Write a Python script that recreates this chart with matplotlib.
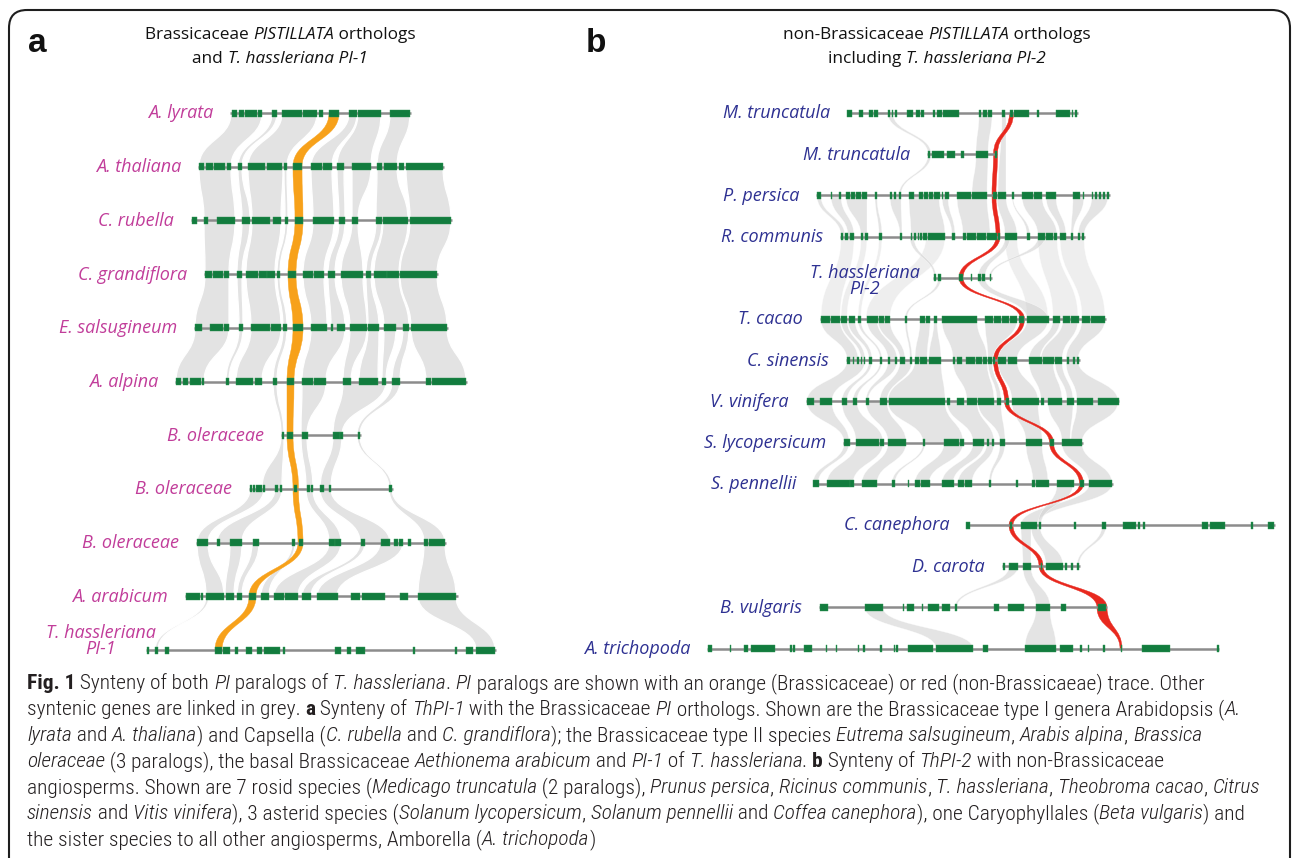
import matplotlib
matplotlib.use("Agg")
import matplotlib.pyplot as plt
from matplotlib.path import Path
from matplotlib.patches import PathPatch, FancyBboxPatch
from matplotlib.font_manager import FontProperties, fontManager

W, H = 1292, 858

# ---------------- panel a : Brassicaceae PI orthologs ----------------
names_a = ["A. lyrata", "A. thaliana", "C. rubella", "C. grandiflora", "E. salsugineum",
           "A. alpina", "B. oleraceae", "B. oleraceae", "B. oleraceae", "A. arabicum",
           "T. hassleriana\nPI-1"]
span_a = [(230, 411), (198, 444), (191, 452), (204, 438), (194, 448), (175, 467),
          (281, 361), (249, 393), (196, 446), (185, 458), (146, 496)]
exons_a = [
    [(231.5, 236.5), (239, 244), (245, 256.5), (258, 261.5), (272, 276.5), (282, 302), (303, 316.5),
     (319, 323), (329, 339), (348.5, 357), (358, 380.5), (390, 410)],
    [(199, 204), (206, 213), (214, 225), (227, 231), (238, 242), (248, 265), (267, 282), (284, 287),
     (293, 302), (311, 322), (322.5, 332), (337, 344), (352, 371), (377, 382), (384, 397), (399, 404),
     (406, 443)],
    [(192, 197), (204, 208), (217, 235), (242, 250), (252, 270), (273, 281), (285, 288), (295, 303),
     (313, 334), (339, 345), (352, 358), (376, 382), (383, 408), (410, 451)],
    [(205, 211.5), (212.5, 222.5), (223.5, 229), (237, 242), (246, 258), (259, 266.5), (267, 275),
     (277, 280), (288, 296), (303, 313), (314, 324), (328, 335), (341, 363), (366, 371), (374, 386.5),
     (387, 399), (400, 437)],
    [(195, 202), (210, 223), (224, 229), (239, 243), (251, 270), (271, 281), (283, 287), (293, 303),
     (311, 327), (331, 333), (337, 345), (350, 367), (368, 379), (384, 396), (403, 409), (411, 447)],
    [(176, 181), (183, 188), (190, 201), (202, 204), (226, 229), (236, 253), (255, 262), (273, 277),
     (287, 294), (302, 313), (314, 326), (343, 351), (359, 378), (382, 386), (392, 400), (426, 431),
     (432, 466)],
    [(281.5, 283.5), (286.5, 293), (301.5, 307.5), (332.5, 339.5), (340, 342.5), (357.5, 360)],
    [(250, 252), (253, 255), (256, 262), (263, 264.5), (275, 277.5), (280, 282), (294, 297),
     (306.5, 309.5), (311, 313), (320, 323.5), (328.5, 331), (389, 392)],
    [(197, 208), (217, 220), (230, 242), (252.5, 258.5), (291.5, 295), (299, 302.5), (329, 334.5),
     (335, 341), (360.5, 364.5), (380.5, 390), (394, 397.5), (398.5, 403), (408, 411), (424, 427.5),
     (428.5, 445)],
    [(186, 199.5), (200.5, 202.5), (206, 223.5), (225.5, 233.5), (237, 242), (249, 256), (261, 269),
     (274, 283.5), (285, 298), (302, 311), (316.5, 337.5), (350.5, 360), (362, 385), (400, 408),
     (418, 456)],
    [(146.5, 149), (155, 157.5), (165, 168.5), (215, 222), (223, 229.5), (235, 237.5), (246, 252),
     (257, 262), (264, 280), (282.5, 285), (335, 341), (347, 351), (356, 364.5), (412.5, 415),
     (455, 457), (466, 473), (476, 495)],
]
# PI ortholog on every track (orange trace)
pi_a = [(329, 339), (293, 302), (295, 303), (288, 296), (293, 303), (287, 294), (287, 293),
        (293, 298.5), (298, 303), (249, 256), (215, 222)]
# syntenic links: (upper track, lower track, x0 up, x1 up, x0 down, x1 down)
links_a = [
    (0, 1, 231, 262, 199, 231), (0, 1, 272, 277, 238, 242), (0, 1, 282, 317, 248, 287),
    (0, 1, 349, 357, 311, 332), (0, 1, 358, 381, 337, 371), (0, 1, 390, 410, 377, 397),
    (1, 2, 199, 231, 204, 235), (1, 2, 238, 242, 242, 250), (1, 2, 248, 283, 252, 281),
    (1, 2, 284, 287, 285, 288), (1, 2, 311, 332, 313, 334), (1, 2, 337, 344, 339, 345),
    (1, 2, 352, 371, 352, 358), (1, 2, 377, 397, 376, 408), (1, 2, 406, 443, 410, 451),
    (2, 3, 204, 235, 205, 229), (2, 3, 242, 250, 237, 242), (2, 3, 252, 281, 246, 275),
    (2, 3, 285, 288, 277, 280), (2, 3, 313, 334, 303, 324), (2, 3, 339, 345, 328, 335),
    (2, 3, 352, 358, 341, 363), (2, 3, 376, 382, 366, 371), (2, 3, 383, 408, 374, 399),
    (2, 3, 410, 451, 400, 437),
    (3, 4, 205, 229, 195, 229), (3, 4, 237, 242, 239, 243), (3, 4, 246, 275, 251, 281),
    (3, 4, 277, 280, 283, 287), (3, 4, 303, 324, 311, 327), (3, 4, 328, 335, 331, 345),
    (3, 4, 341, 363, 350, 367), (3, 4, 366, 371, 368, 379), (3, 4, 374, 399, 384, 409),
    (3, 4, 400, 437, 411, 447),
    (4, 5, 195, 229, 176, 204), (4, 5, 239, 243, 226, 229), (4, 5, 251, 281, 236, 262),
    (4, 5, 283, 287, 273, 277), (4, 5, 311, 345, 302, 326), (4, 5, 350, 367, 343, 351),
    (4, 5, 368, 379, 359, 378), (4, 5, 384, 396, 382, 386), (4, 5, 403, 409, 392, 400),
    (4, 5, 411, 447, 426, 466),
    (5, 6, 273, 277, 281, 284), (5, 6, 302, 326, 301, 307), (5, 6, 343, 386, 333, 342),
    (5, 6, 392, 400, 357, 360),
    (6, 7, 281, 284, 262, 282), (6, 7, 301, 307, 306, 313), (6, 7, 333, 342, 320, 331),
    (6, 7, 357, 360, 389, 392),
    (7, 8, 250, 264, 197, 208), (7, 8, 275, 282, 217, 242), (7, 8, 306, 313, 329, 341),
    (7, 8, 320, 331, 360, 390), (7, 8, 389, 392, 424, 445),
    (8, 9, 197, 208, 206, 224), (8, 9, 230, 242, 225, 234), (8, 9, 252, 259, 237, 242),
    (8, 9, 292, 295, 261, 269), (8, 9, 329, 341, 274, 298), (8, 9, 360, 365, 302, 311),
    (8, 9, 380, 403, 317, 337), (8, 9, 424, 445, 418, 456),
    (9, 10, 206, 209, 155, 158), (9, 10, 418, 456, 476, 495),
]

# ---------------- panel b : non-Brassicaceae PI orthologs ----------------
names_b = ["M. truncatula", "M. truncatula", "P. persica", "R. communis", "T. hassleriana\nPI-2",
           "T. cacao", "C. sinensis", "V. vinifera", "S. lycopersicum", "S. pennellii",
           "C. canephora", "D. carota", "B. vulgaris", "A. trichopoda"]
span_b = [(847, 1078), (927, 997), (816, 1110), (840, 1085), (933, 992), (820, 1106), (846, 1080),
          (806, 1119), (843, 1083), (813, 1113), (966, 1275), (1002, 1080), (819, 1107), (707, 1219)]
exons_b = [
    [(847, 852), (859, 863), (869, 872.5), (873.5, 878), (888, 889.5), (891.5, 893), (895, 896.5),
     (907, 913), (916, 920), (921, 923.5), (933, 935), (936.5, 941.5), (942.5, 958.5), (979, 981),
     (982.5, 986.5), (987.5, 991.5), (1002, 1005), (1010, 1013), (1014, 1028.5), (1036.5, 1038.5),
     (1055.5, 1069.5), (1071.5, 1073), (1075, 1076.5)],
    [(928, 930), (931.5, 944), (946.5, 955), (960.5, 964), (975.5, 987.5), (995, 997)],
    [(817, 821), (830.5, 832), (839, 841), (846, 850), (851, 855), (856, 861), (862, 867), (875, 877),
     (890, 892), (894, 896), (899, 901), (909, 914), (918.5, 923), (924, 928), (929, 933),
     (934, 939.5), (941.5, 943), (945, 948.5), (956.5, 971), (972, 986.5), (992.5, 997), (998, 1006),
     (1011.5, 1013.5), (1021.5, 1033), (1034, 1042), (1046, 1056), (1072.5, 1079.5), (1082.5, 1084),
     (1091.5, 1093), (1095, 1097), (1099, 1101), (1103, 1105), (1107, 1109)],
    [(840.5, 843), (844.5, 848), (849.5, 854), (860.5, 863), (865, 867.5), (879, 882), (900, 902),
     (910.5, 912), (914, 916), (917.5, 919), (920, 922), (922.5, 927), (927.5, 945), (952, 955),
     (963, 966), (967, 976), (977, 986), (987, 996.5), (998, 1000), (1005, 1016.5), (1026.5, 1030),
     (1038, 1045), (1046, 1053), (1054, 1057), (1060, 1066), (1070.5, 1072.5), (1078, 1080),
     (1081.5, 1084)],
    [(934, 936), (938, 941), (959, 963), (971, 972), (978, 981), (982, 985), (989.5, 991)],
    [(820.5, 830), (831, 840), (841, 847), (848.5, 855), (857.5, 861), (866.5, 877.5), (878.5, 883.5),
     (885, 890), (905, 907), (920, 925), (926, 930), (934, 937), (942, 976.5), (985, 993), (994, 1001),
     (1002, 1009), (1010, 1017), (1019, 1024), (1027, 1048.5), (1052.5, 1060), (1063, 1070),
     (1071, 1078.5), (1081.5, 1090), (1091, 1105)],
    [(847, 850), (852.5, 854), (856.5, 858.5), (860.5, 862), (863.5, 865), (869, 872), (880, 882),
     (888, 890), (895, 897), (900, 905), (910, 912), (915, 918.5), (920, 927), (929, 941), (953, 955),
     (956.5, 962), (966, 975), (976, 982), (983, 987), (988, 992), (993, 995), (998, 1006),
     (1008, 1017), (1029, 1042), (1043, 1053.5), (1055, 1062), (1066.5, 1068.5), (1073, 1075),
     (1076.5, 1078.5)],
    [(806.5, 813.5), (820, 831.5), (841.5, 847), (853, 857), (866, 868.5), (880, 887), (888.5, 945),
     (946.5, 950), (956.5, 963.5), (966.5, 977), (978, 994), (996.5, 1001), (1006, 1008.5),
     (1011.5, 1038.5), (1040.5, 1043.5), (1048, 1062), (1066.5, 1073.5), (1077, 1093), (1098, 1118.5)],
    [(844, 849.5), (856, 878.5), (879.5, 883.5), (888, 906), (922.5, 925), (944, 958.5), (959.5, 963.5),
     (972.5, 984), (987, 989), (992, 994), (1000, 1005), (1025.5, 1042), (1050, 1053.5), (1061.5, 1082)],
    [(813, 818.5), (827, 849.5), (850, 853.5), (862, 877), (891.5, 895), (908, 909), (915, 919.5),
     (920.5, 929.5), (941.5, 953.5), (957.5, 963.5), (965, 972), (989, 991), (1015.5, 1018),
     (1032, 1035), (1036, 1048.5), (1056.5, 1073.5), (1080, 1083.5), (1089, 1112)],
    [(966, 970), (1010, 1012), (1021, 1037), (1038.5, 1040.5), (1074, 1075.5), (1102, 1105.5),
     (1123, 1136), (1138, 1140), (1143, 1145), (1202, 1208), (1210, 1225), (1251, 1252.5), (1268, 1274)],
    [(1003, 1004.5), (1009, 1018), (1023, 1031), (1040.5, 1042), (1046, 1063), (1065, 1067),
     (1070.5, 1072.5), (1077, 1079)],
    [(819.5, 828), (865, 883), (903, 904), (907, 913.5), (922, 923), (927.5, 939), (942, 950),
     (955, 956.5), (993.5, 999), (1007.5, 1024), (1036, 1050), (1061, 1065.5), (1098, 1106)],
    [(707.5, 712), (730, 731), (744, 748), (751, 774.5), (790, 791.5), (793, 794.5), (803.5, 812),
     (826, 827), (835.5, 837), (858, 859), (862.5, 864.5), (880, 882), (894, 895), (896, 897.5),
     (908, 932.5), (936, 973), (983, 988), (1025, 1055.5), (1060, 1073), (1080, 1082), (1087.5, 1089),
     (1102.5, 1104.5), (1120.5, 1122), (1142, 1169.5), (1217, 1218.5)],
]
pi_b = [(1009.5, 1013.5), (993.5, 997.5), (992, 996), (996, 1000), (959, 963), (1020.5, 1024.5),
        (993.5, 997.5), (1004.5, 1008.5), (1049.5, 1053.5), (1079.5, 1083.5), (1009, 1013), (1039, 1043),
        (1097, 1107), (1120, 1122)]
links_b = [
    (0, 1, 979, 992, 976, 988), (0, 1, 888, 893, 928, 931), (0, 2, 1002, 1006, 998, 1006),
    (1, 2, 928, 931, 899, 901), (1, 2, 976, 988, 972, 987),
    (2, 3, 817, 821, 841, 845), (2, 3, 831, 841, 848, 854), (2, 3, 846, 867, 861, 867),
    (2, 3, 875, 877, 879, 882), (2, 3, 890, 901, 900, 902), (2, 3, 909, 939, 911, 945),
    (2, 3, 942, 948, 952, 955), (2, 3, 957, 987, 963, 990), (2, 3, 997, 1006, 1005, 1017),
    (2, 3, 1012, 1013, 1027, 1030), (2, 3, 1022, 1042, 1038, 1057), (2, 3, 1046, 1056, 1060, 1066),
    (2, 3, 1073, 1084, 1071, 1073), (2, 3, 1092, 1108, 1078, 1084),
    (3, 4, 910, 914, 934, 936), (3, 4, 1005, 1010, 978, 985), (3, 4, 1038, 1045, 989, 991),
    (4, 5, 938, 941, 905, 907), (4, 5, 978, 985, 1027, 1048),
    (5, 6, 821, 840, 847, 858), (5, 6, 841, 847, 861, 865), (5, 6, 848, 855, 869, 872),
    (5, 6, 858, 861, 880, 882), (5, 6, 867, 877, 888, 897), (5, 6, 878, 890, 900, 905),
    (5, 6, 905, 907, 910, 912), (5, 6, 920, 930, 915, 927), (5, 6, 934, 937, 929, 941),
    (5, 6, 942, 977, 953, 987), (5, 6, 985, 1017, 988, 993), (5, 6, 1027, 1048, 998, 1017),
    (5, 6, 1053, 1060, 1029, 1040), (5, 6, 1063, 1078, 1041, 1062), (5, 6, 1082, 1105, 1066, 1078),
    (6, 7, 847, 865, 807, 832), (6, 7, 869, 872, 842, 847), (6, 7, 880, 882, 853, 857),
    (6, 7, 888, 897, 866, 868), (6, 7, 900, 912, 880, 887), (6, 7, 915, 941, 888, 945),
    (6, 7, 953, 987, 967, 994), (6, 7, 988, 992, 997, 1001), (6, 7, 998, 1017, 1012, 1038),
    (6, 7, 1029, 1053, 1041, 1062), (6, 7, 1055, 1062, 1067, 1073), (6, 7, 1066, 1078, 1077, 1118),
    (7, 8, 807, 832, 844, 849), (7, 8, 842, 857, 856, 883), (7, 8, 866, 887, 888, 906),
    (7, 8, 888, 945, 923, 963), (7, 8, 947, 977, 973, 994), (7, 8, 978, 1001, 1000, 1005),
    (7, 8, 1012, 1038, 1026, 1042), (7, 8, 1048, 1073, 1062, 1070), (7, 8, 1077, 1118, 1071, 1082),
    (8, 9, 844, 849, 813, 818), (8, 9, 856, 883, 827, 853), (8, 9, 888, 906, 862, 877),
    (8, 9, 923, 925, 892, 895), (8, 9, 944, 963, 915, 929), (8, 9, 973, 984, 942, 953),
    (8, 9, 987, 994, 958, 972), (8, 9, 1000, 1005, 989, 991), (8, 9, 1026, 1042, 1033, 1048),
    (8, 9, 1062, 1082, 1089, 1112),
    (9, 10, 1089, 1112, 1021, 1037), (9, 10, 1057, 1073, 1038, 1041),
    (10, 11, 1021, 1031, 1023, 1031), (10, 11, 1031, 1040, 1046, 1063), (10, 11, 1102, 1106, 1077, 1079),
    (11, 12, 1023, 1031, 1036, 1050), (11, 12, 1009, 1018, 955, 957),
    (12, 13, 865, 883, 936, 973), (12, 13, 1036, 1050, 1025, 1056),
]
# faint links between R. communis and T. cacao that bypass T. hassleriana PI-2
faint_b = [
    (3, 5, 841, 854, 821, 840), (3, 5, 861, 867, 841, 847), (3, 5, 879, 882, 858, 861),
    (3, 5, 926, 945, 866, 890), (3, 5, 1005, 1017, 1027, 1048), (3, 5, 1038, 1057, 1053, 1078),
    (3, 5, 1060, 1084, 1082, 1105),
]

caption = [
    "^Fig. 1^ Synteny of both _PI_ paralogs of _T. hassleriana_. _PI_ paralogs are shown with an orange (Brassicaceae) or red (non-Brassicaeae) trace. Other",
    "syntenic genes are linked in grey. ^a^ Synteny of _ThPI-1_ with the Brassicaceae _PI_ orthologs. Shown are the Brassicaceae type I genera Arabidopsis (_A._",
    "_lyrata_ and _A. thaliana_) and Capsella (_C. rubella_ and _C. grandiflora_); the Brassicaceae type II species _Eutrema salsugineum_, _Arabis alpina_, _Brassica_",
    "_oleraceae_ (3 paralogs), the basal Brassicaceae _Aethionema arabicum_ and _PI-1_ of _T. hassleriana_. ^b^ Synteny of _ThPI-2_ with non-Brassicaceae",
    "angiosperms. Shown are 7 rosid species (_Medicago truncatula_ (2 paralogs), _Prunus persica_, _Ricinus communis_, _T. hassleriana_, _Theobroma cacao_, _Citrus_",
    "_sinensis_ and _Vitis vinifera_), 3 asterid species (_Solanum lycopersicum_, _Solanum pennellii_ and _Coffea canephora_), one Caryophyllales (_Beta vulgaris_) and",
    "the sister species to all other angiosperms, Amborella (_A. trichopoda_)",
]
caption_widths = [1210, 1245, 1215, 1178, 1235, 1223]
title_a = ["Brassicaceae _PISTILLATA_ orthologs", "and _T. hassleriana PI-1_"]
title_b = ["non-Brassicaceae _PISTILLATA_ orthologs", "including _T. hassleriana PI-2_"]

# ---------------- drawing ----------------
installed = {f.name for f in fontManager.ttflist}
cap_family = next((f for f in ["Roboto Condensed", "Liberation Sans Narrow", "DejaVu Sans Condensed"]
                   if f in installed), "Open Sans")

fig = plt.figure(figsize=(W / 100, H / 100), dpi=100)
ax = fig.add_axes([0, 0, 1, 1])
ax.set_xlim(0, W)
ax.set_ylim(H, 0)
ax.axis("off")
renderer = fig.canvas.get_renderer()


def ribbon(a0, a1, b0, b1, yt, yb, **kw):
    ym = (yt + yb) / 2
    verts = [(a0, yt), (a0, ym), (b0, ym), (b0, yb), (b1, yb), (b1, ym), (a1, ym), (a1, yt), (a0, yt)]
    codes = [Path.MOVETO, Path.CURVE4, Path.CURVE4, Path.CURVE4, Path.LINETO,
             Path.CURVE4, Path.CURVE4, Path.CURVE4, Path.CLOSEPOLY]
    ax.add_patch(PathPatch(Path(verts, codes), **kw))


def runs_of(s):
    out, it, bd, buf = [], False, False, ""
    for ch in s:
        if ch in "_^":
            if buf:
                out.append((buf, it, bd))
                buf = ""
            if ch == "_":
                it = not it
            else:
                bd = not bd
        else:
            buf += ch
    if buf:
        out.append((buf, it, bd))
    return out


def adv(s, fp):
    w1 = renderer.get_text_width_height_descent(s + "|", fp, ismath=False)[0]
    w2 = renderer.get_text_width_height_descent("|", fp, ismath=False)[0]
    return w1 - w2


def rich(x, y, s, family, size, color, ha="left", measure=False, light=False):
    parts = []
    for txt, it, bd in runs_of(s):
        fp = FontProperties(family=family, size=size, style="italic" if it else "normal",
                            weight="bold" if bd else ("light" if light else "normal"))
        parts.append((txt, fp))
    total = sum(adv(t, fp) for t, fp in parts)
    if measure:
        return total
    if ha == "center":
        x -= total / 2
    for t, fp in parts:
        ax.text(x, y, t, fontproperties=fp, color=color, ha="left", va="baseline")
        x += adv(t, fp)


def panel(names, spans, exons, pi, links, y0, dy, label_color, trace_color, grey, two_line,
          faint=()):
    ys = [y0 + i * dy for i in range(len(names))]
    for i, j, a0, a1, b0, b1 in faint:
        ribbon(a0, a1, b0, b1, ys[i], ys[j], fc="#e4e4e4", ec="white", lw=0.4, alpha=0.6, zorder=1)
    for i, j, a0, a1, b0, b1 in links:
        ribbon(a0, a1, b0, b1, ys[i], ys[j], fc=grey[0], ec="white", lw=grey[1], alpha=grey[2], zorder=1)
    for k in range(len(pi) - 1):
        ribbon(pi[k][0], pi[k][1], pi[k + 1][0], pi[k + 1][1], ys[k], ys[k + 1],
               fc=trace_color, ec=trace_color, lw=0.3, zorder=2)
    fp = FontProperties(family="Open Sans", style="italic", size=13)
    cx, dtop, dbot = two_line
    for y, (s, e), ex, name in zip(ys, spans, exons, names):
        ax.plot([s, e], [y, y], color="#8c8c8c", lw=1.8, solid_capstyle="butt", zorder=3)
        ax.broken_barh([(a, b - a) for a, b in ex], (y - 3.5, 7), facecolors="#127c3e",
                       edgecolors="#2f9455", linewidth=0.3, zorder=4)
        if "\n" in name:
            top, bottom = name.split("\n")
            ax.text(cx, y + dtop, top, fontproperties=fp, color=label_color, ha="center", va="baseline")
            ax.text(cx, y + dbot, bottom, fontproperties=fp, color=label_color, ha="center", va="baseline")
        else:
            ax.text(s - 17, y + 5.5, name, fontproperties=fp, color=label_color, ha="right", va="baseline")


panel(names_a, span_a, exons_a, pi_a, links_a, 113, 53.7, "#c13d9a", "#f7a11a",
      ("#e3e3e3", 0.9, 1.0), (101, -12, 4))
panel(names_b, span_b, exons_b, pi_b, links_b, 113, 41.2, "#2e3192", "#e8281e",
      ("#d2d2d2", 0.4, 0.6), (865, 0, 16), faint=faint_b)

# panel letters and titles
for letter, x in (("a", 28), ("b", 586)):
    ax.text(x, 52, letter, fontproperties=FontProperties(family="Liberation Sans", weight="bold", size=24),
            color="#111111", ha="left", va="baseline")
for lines, cx in ((title_a, 280), (title_b, 937)):
    rich(cx, 39, lines[0], "Open Sans", 12.4, "#111111", ha="center")
    rich(cx, 63, lines[1], "Open Sans", 12.4, "#111111", ha="center")

# caption, size fitted so that every full line fits its width in the reference
cap_size = min(10 * wt / rich(0, 0, line, cap_family, 10, "k", measure=True, light=True)
               for line, wt in zip(caption, caption_widths))
for k, line in enumerate(caption):
    rich(27, 689 + 26 * k, line, cap_family, cap_size, "#231f20", light=True)

# rounded frame
ax.add_patch(FancyBboxPatch((9, 10), 1281, 900, boxstyle="round,pad=0,rounding_size=18",
                            fc="none", ec="#1e1e1e", lw=1.5, zorder=5))

fig.savefig("out.png", dpi=100)
